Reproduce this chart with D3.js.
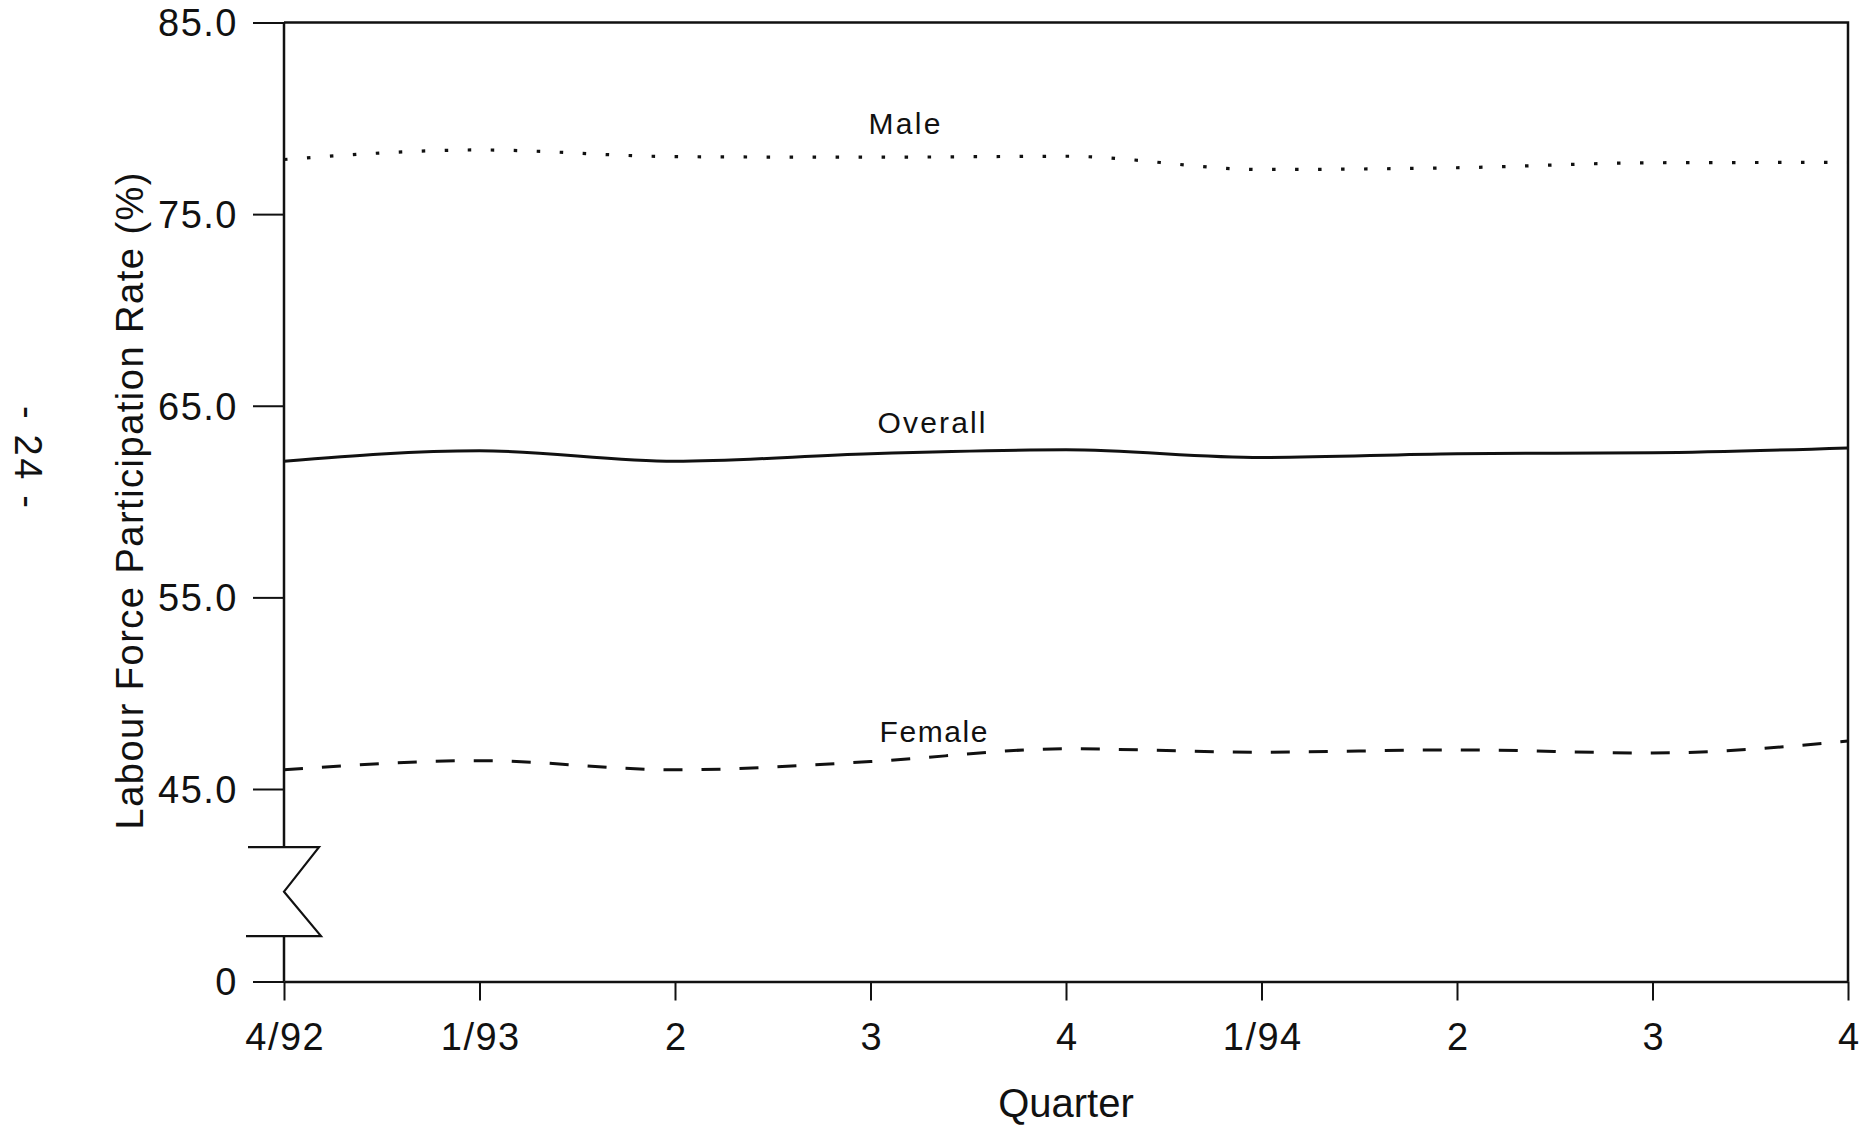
<!DOCTYPE html>
<html><head><meta charset="utf-8">
<script src="https://cdn.jsdelivr.net/npm/d3@7"></script>
<style>
html,body{margin:0;padding:0;background:#fff;}
svg{display:block;}
text{font-family:"Liberation Sans", Arial, Helvetica, sans-serif;fill:#111;}
</style>
</head><body>
<svg id="chart" width="1873" height="1125"></svg>
<script>
// ---- data ----
const categories = ["4/92","1/93","2","3","4","1/94","2","3","4"];
const maleValues    = [77.85, 78.35, 78.0, 77.97, 78.02, 77.33, 77.42, 77.68, 77.7];
const overallValues = [62.1, 62.65, 62.1, 62.5, 62.7, 62.3, 62.5, 62.55, 62.8];
const femaleValues  = [46.0, 46.48, 46.0, 46.43, 47.1, 46.92, 47.04, 46.88, 47.5];
const yTickValues = [0, 45, 55, 65, 75, 85];
const seriesNames = ["Male", "Overall", "Female"];
const xTitle = "Quarter";
const yTitle = "Labour Force Participation Rate (%)";
const pageMark = "- 24 -";

// ---- layout ----
const svg = d3.select("#chart");
const mLeft = 284, mRight = 1848, mTop = 22.5, mBottom = 981.5;
const ink = "#111";
const fontFam = '"Liberation Sans", Arial, Helvetica, sans-serif';

const x = d3.scalePoint().domain(d3.range(categories.length)).range([mLeft, mRight]);
// broken axis: 0 at bottom, 45..85 linear above the break
const y = d3.scaleLinear().domain([0, 45, 85]).range([mBottom, 789, mTop]);

// frame: top and right
svg.append("path")
  .attr("d", `M${mLeft},${y(85)}H${mRight}V${mBottom}`)
  .attr("fill","none").attr("stroke",ink).attr("stroke-width",2.5);

// x axis
const gx = svg.append("g")
  .attr("transform", `translate(0,${mBottom})`)
  .style("color", ink)
  .call(d3.axisBottom(x).tickFormat(i => categories[i]).tickSizeInner(19).tickSizeOuter(0));
gx.attr("font-family", fontFam).attr("font-size", 38);
gx.select(".domain").attr("stroke-width", 2.5);
gx.selectAll(".tick line").attr("stroke-width", 2);
gx.selectAll(".tick text").attr("y", 68.5).attr("dy", 0).attr("dx", 0.75).attr("letter-spacing", 1.5);

// y axis (ticks + labels)
const gy = svg.append("g")
  .attr("transform", `translate(${mLeft},0)`)
  .style("color", ink)
  .call(d3.axisLeft(y).tickValues(yTickValues)
    .tickFormat(v => v === 0 ? "0" : d3.format(".1f")(v))
    .tickSizeInner(31).tickSizeOuter(0).tickPadding(15));
gy.attr("font-family", fontFam).attr("font-size", 38);
gy.select(".domain").remove();
gy.selectAll(".tick line").attr("stroke-width", 2);
gy.selectAll(".tick text").attr("dy", "0.35em").attr("letter-spacing", 1.5);

// y axis line with break symbol
const yb1 = y(31.4), ybm = y(21), yb2 = y(10.6);
svg.append("path")
  .attr("d", `M${mLeft},${y(85)}V${yb1}`)
  .attr("fill","none").attr("stroke",ink).attr("stroke-width",2.5);
svg.append("path")
  .attr("d", `M${mLeft},${yb2}V${mBottom}`)
  .attr("fill","none").attr("stroke",ink).attr("stroke-width",2.5);
svg.append("path")
  .attr("d", `M${mLeft-36},${yb1}H${mLeft+35}L${mLeft},${ybm}L${mLeft+37},${yb2}H${mLeft-38}`)
  .attr("fill","none").attr("stroke",ink).attr("stroke-width",2.2).attr("stroke-linejoin","miter");

// series lines
const line = d3.line().x((d,i) => x(i)).y(d => y(d)).curve(d3.curveMonotoneX);
svg.append("path").datum(maleValues).attr("d", line)
  .attr("fill","none").attr("stroke",ink).attr("stroke-width",3.2)
  .attr("stroke-dasharray","3.5 19.5");
svg.append("path").datum(overallValues).attr("d", line)
  .attr("fill","none").attr("stroke",ink).attr("stroke-width",3);
svg.append("path").datum(femaleValues).attr("d", line)
  .attr("fill","none").attr("stroke",ink).attr("stroke-width",3)
  .attr("stroke-dasharray","19 19");

// series labels
const labelSpecs = [
  {name: seriesNames[0], dx: -2, v: 79.2, len: 72},
  {name: seriesNames[1], dx: 7,  v: 63.6, len: 108},
  {name: seriesNames[2], dx: 9,  v: 47.45, len: 108}
];
svg.selectAll("text.series-label").data(labelSpecs).join("text")
  .attr("class","series-label")
  .attr("x", d => x(3) + d.dx)
  .attr("y", d => y(d.v))
  .attr("font-size", 30)
  .attr("textLength", d => d.len)
  .attr("lengthAdjust", "spacing")
  .text(d => d.name);

// axis titles
svg.append("text")
  .attr("x", (mLeft + mRight) / 2).attr("y", 1117)
  .attr("text-anchor","middle").attr("font-size", 40)
  .text(xTitle);

svg.append("text")
  .attr("transform", "translate(143,501) rotate(-90)")
  .attr("text-anchor","middle").attr("font-size", 38)
  .attr("textLength", 657).attr("lengthAdjust","spacing")
  .text(yTitle);

// page number mark (rotated)
svg.append("text")
  .attr("transform", "translate(15,457) rotate(90)")
  .attr("text-anchor","middle").attr("font-size", 38)
  .attr("textLength", 102).attr("lengthAdjust","spacing")
  .text(pageMark);
</script>
</body></html>
